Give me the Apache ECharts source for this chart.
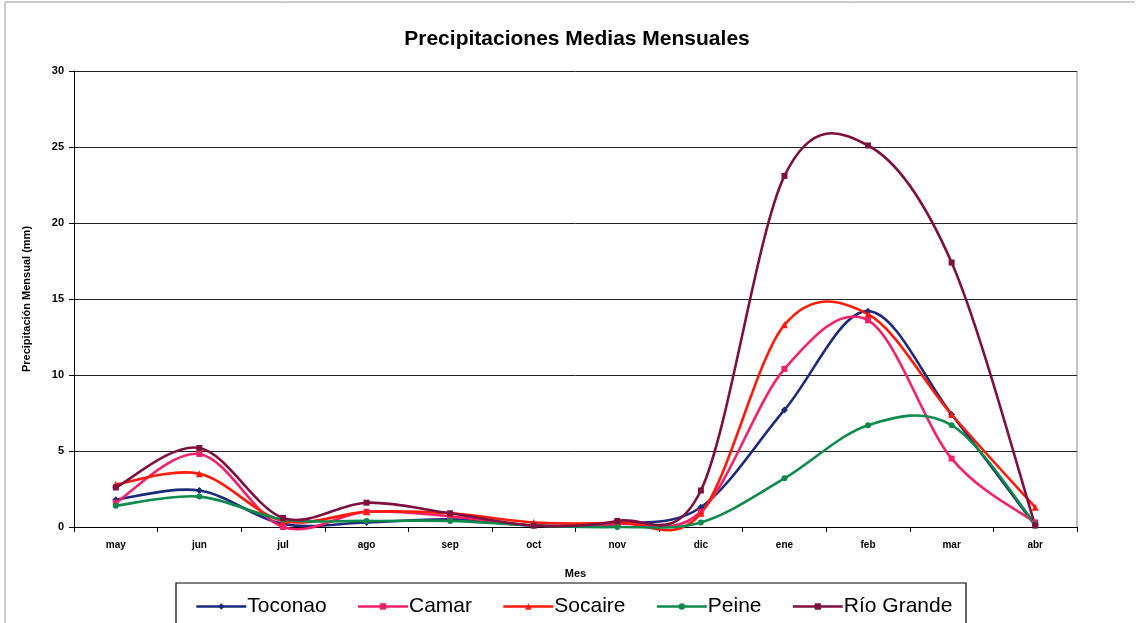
<!DOCTYPE html>
<html><head><meta charset="utf-8">
<script src="https://cdn.jsdelivr.net/npm/echarts@6/dist/echarts.min.js"></script>
<style>html,body{margin:0;padding:0;background:#fff}#c{width:1141px;height:623px}</style>
</head><body><div id="c"></div>
<script>
const months = ['may','jun','jul','ago','sep','oct','nov','dic','ene','feb','mar','abr'];
const toconao   = [1.8, 2.4, 0.2, 0.3, 0.5, 0.1, 0.2, 1.3, 7.7, 14.2, 7.4, 0.1];
const camar     = [1.6, 4.8, 0.0, 1.0, 0.7, 0.1, 0.2, 1.0, 10.4, 13.6, 4.5, 0.3];
const socaire   = [2.8, 3.5, 0.4, 1.0, 0.9, 0.3, 0.3, 0.9, 13.3, 14.0, 7.4, 1.3];
const peine     = [1.4, 2.0, 0.5, 0.4, 0.4, 0.1, 0.0, 0.3, 3.2, 6.7, 6.7, 0.2];
const rioGrande = [2.6, 5.2, 0.6, 1.6, 0.9, 0.1, 0.4, 2.4, 23.1, 25.1, 17.4, 0.1];
const yTicks = [0, 5, 10, 15, 20, 25, 30];

const FONT = 'Liberation Sans, Arial, sans-serif';
const chart = echarts.init(document.getElementById('c'));

// Excel-like (Catmull-Rom) smoothed curve through the data, positioned with the axis scales
function curve(values, color) {
  return {
    type:'custom', data:[0], silent:true, z:1, clip:false,
    renderItem(params, api) {
      const p = values.map((v, i) => api.coord([i, v]));
      let d = 'M' + p[0][0] + ' ' + p[0][1];
      for (let i = 0; i < p.length - 1; i++) {
        const p0 = p[Math.max(0, i - 1)], p1 = p[i], p2 = p[i + 1], p3 = p[Math.min(p.length - 1, i + 2)];
        const c1 = [p1[0] + (p2[0] - p0[0]) / 6, p1[1] + (p2[1] - p0[1]) / 6];
        const c2 = [p2[0] - (p3[0] - p1[0]) / 6, p2[1] - (p3[1] - p1[1]) / 6];
        d += ' C' + c1[0] + ' ' + c1[1] + ' ' + c2[0] + ' ' + c2[1] + ' ' + p2[0] + ' ' + p2[1];
      }
      return {type:'path', shape:{pathData:d}, style:{fill:'none', stroke:color, lineWidth:2.6}};
    }
  };
}
function marks(name, data, color, symbol, size) {
  return {name, type:'line', data, symbol, symbolSize:size, showSymbol:true,
    lineStyle:{width:0, opacity:0}, itemStyle:{color}, z:3};
}
const specs = [
  ['Toconao', toconao, '#1b2a7a', 'diamond', 7],
  ['Camar', camar, '#f5206a', 'rect', 6],
  ['Socaire', socaire, '#ff1a0a', 'triangle', 7],
  ['Peine', peine, '#0e8a4c', 'circle', 6],
  ['Río Grande', rioGrande, '#7d1040', 'rect', 6]
];
const series = [];
specs.forEach(s => series.push(curve(s[1], s[2])));
specs.forEach(s => series.push(marks(...s)));

chart.setOption({
  animation:false,
  title:{text:'Precipitaciones Medias Mensuales', left:572, textAlign:'center', top:24,
    textStyle:{fontFamily:FONT, fontSize:21, fontWeight:'bold', color:'#000'}},
  grid:{left:74, right:64, top:71, bottom:96},
  xAxis:{type:'category', data:months, boundaryGap:true, name:'Mes', nameLocation:'middle', nameGap:41,
    nameTextStyle:{fontFamily:FONT, fontSize:11, fontWeight:'bold', color:'#000'},
    axisLine:{lineStyle:{color:'#000', width:1}}, axisTick:{show:true, length:5, lineStyle:{color:'#000'}},
    axisLabel:{fontFamily:FONT, fontSize:10, fontWeight:'bold', color:'#000', margin:13}},
  yAxis:{type:'value', min:yTicks[0], max:yTicks[yTicks.length-1], interval:5,
    name:'Precipitación Mensual (mm)', nameLocation:'middle', nameGap:42,
    nameTextStyle:{fontFamily:FONT, fontSize:11, fontWeight:'bold', color:'#000'},
    axisLine:{show:true, lineStyle:{color:'#000'}}, axisTick:{show:true, length:5, lineStyle:{color:'#000'}},
    axisLabel:{fontFamily:FONT, fontSize:11, fontWeight:'bold', color:'#000', margin:10},
    splitLine:{lineStyle:{color:'#222', width:1}}},
  legend:{left:190, top:591, itemGap:30, itemWidth:50, itemHeight:8,
    textStyle:{fontFamily:FONT, fontSize:21, color:'#000', padding:[0,0,0,-4]},
    data:specs.map(s => ({name:s[0], lineStyle:{color:s[2], width:2.6, opacity:1}}))},
  graphic:[
    {type:'rect', shape:{x:176, y:583, width:790, height:45}, style:{fill:'none', stroke:'#000', lineWidth:1.2}, z:-1},
    {type:'line', shape:{x1:5, y1:2, x2:5, y2:623}, style:{stroke:'#999', lineWidth:1}},
    {type:'line', shape:{x1:5, y1:2, x2:1135, y2:2}, style:{stroke:'#999', lineWidth:1}},
    {type:'line', shape:{x1:1077, y1:71, x2:1077, y2:527}, style:{stroke:'#888', lineWidth:1}}
  ],
  series
});
</script></body></html>
